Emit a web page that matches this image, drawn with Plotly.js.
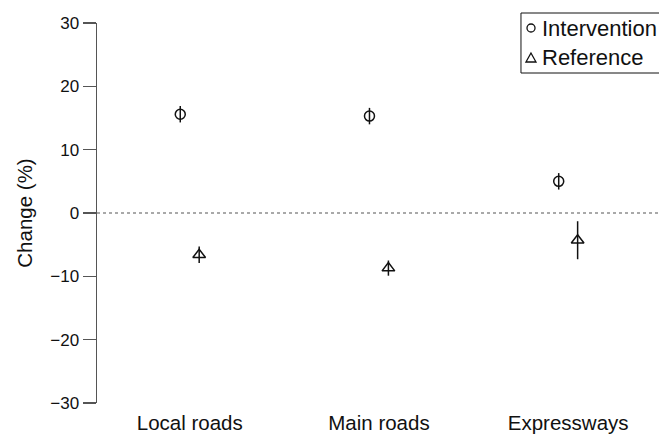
<!DOCTYPE html>
<html>
<head>
<meta charset="utf-8">
<script src="https://cdn.plot.ly/plotly-3.0.1.min.js"></script>
<style>body{margin:0;padding:0;background:#fff;overflow:hidden;}#chart{width:659px;height:435px;}</style>
</head>
<body>
<div id="chart"></div>
<script>
const categories = ["Local roads", "Main roads", "Expressways"];
const seriesNames = ["Intervention", "Reference"];
const interventionValues = [15.6, 15.3, 5.0];
const interventionErrors = [1.3, 1.3, 1.3];
const referenceValues = [-6.6, -8.7, -4.3];
const referenceErrors = [1.3, 1.2, 3.0];
const yTicks = [-30, -20, -10, 0, 10, 20, 30];
const yTickLabels = ["\u221230", "\u221220", "\u221210", "0", "10", "20", "30"];

const idx = categories.map((c, i) => i);
const fam = "Liberation Sans, Arial, sans-serif";

const traces = [
  {
    name: seriesNames[0],
    type: "scatter", mode: "markers",
    x: idx.map(i => i - 0.05), y: interventionValues,
    error_y: {type: "data", array: interventionErrors, visible: true, color: "#111", thickness: 1.5, width: 0},
    marker: {symbol: "circle-open", size: 10, color: "#111", line: {width: 1.5, color: "#111"}}
  },
  {
    name: seriesNames[1],
    type: "scatter", mode: "markers",
    x: idx.map(i => i + 0.05), y: referenceValues,
    error_y: {type: "data", array: referenceErrors, visible: true, color: "#111", thickness: 1.5, width: 0},
    marker: {symbol: "triangle-up-open", size: 11, color: "#111", line: {width: 1.5, color: "#111"}}
  }
];

// legend drawn as a box with symbols and labels (paper coordinates)
const legendFont = {family: fam, size: 22, color: "#111"};

const layout = {
  width: 659, height: 435,
  margin: {l: 97, r: 0, t: 23, b: 32, autoexpand: false},
  paper_bgcolor: "#fff", plot_bgcolor: "#fff",
  font: {family: fam, size: 16, color: "#111"},
  showlegend: false,
  xaxis: {
    range: [-0.49, 2.48],
    tickmode: "array", tickvals: idx, ticktext: categories,
    showline: false, showgrid: false, zeroline: false,
    ticks: "outside", ticklen: 1, tickcolor: "rgba(0,0,0,0)",
    tickfont: {family: fam, size: 20.5, color: "#111"},
    fixedrange: true
  },
  yaxis: {
    range: [-30, 30],
    tickmode: "array", tickvals: yTicks, ticktext: yTickLabels,
    showline: true, linecolor: "#555", linewidth: 1.5,
    ticks: "outside", ticklen: 13, tickcolor: "#555", tickwidth: 1.5,
    showgrid: false, zeroline: false,
    tickfont: {family: fam, size: 17, color: "#111"},
    title: {text: "Change (%)", font: {family: fam, size: 20.5, color: "#111"}, standoff: 12},
    fixedrange: true
  },
  shapes: [
    {type: "line", xref: "paper", yref: "y", x0: 0, x1: 1, y0: 0, y1: 0,
     line: {color: "#555", width: 1.2, dash: "dot"}, layer: "below"},
    {type: "rect", xref: "paper", yref: "paper", x0: 0.7544, x1: 1.05, y0: 0.8684, y1: 1.0263,
     line: {color: "#111", width: 1}, fillcolor: "#fff", layer: "above"},
    {type: "circle", xref: "paper", yref: "paper", x0: 0.7651, x1: 0.7794, y0: 0.9763, y1: 0.9974,
     line: {color: "#111", width: 1.3}, layer: "above"},
    {type: "path", xref: "paper", yref: "paper", path: "M 0.7722 0.9211 L 0.7633 0.8974 L 0.7811 0.8974 Z",
     line: {color: "#111", width: 1.3}, layer: "above"}
  ],
  annotations: [
    {xref: "paper", yref: "paper", x: 0.7883, y: 0.9868, xanchor: "left", yanchor: "middle",
     text: seriesNames[0], showarrow: false, font: legendFont},
    {xref: "paper", yref: "paper", x: 0.7883, y: 0.9079, xanchor: "left", yanchor: "middle",
     text: seriesNames[1], showarrow: false, font: legendFont}
  ]
};

Plotly.newPlot("chart", traces, layout, {displayModeBar: false, staticPlot: true});
</script>
</body>
</html>
